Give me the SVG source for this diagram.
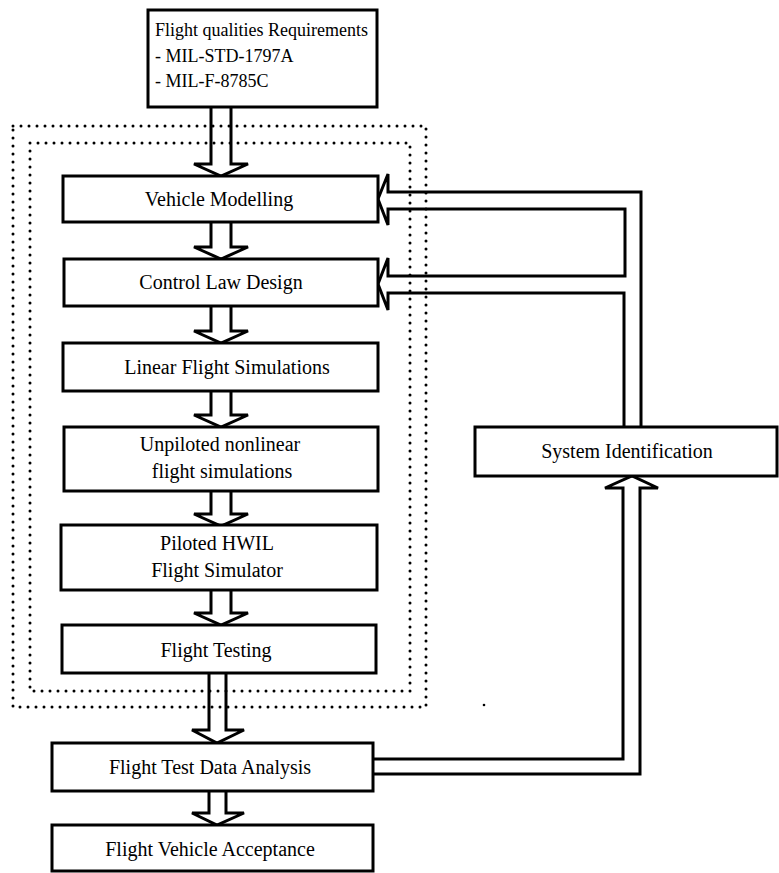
<svg xmlns="http://www.w3.org/2000/svg" width="779" height="873" viewBox="0 0 779 873">
<style>
.box{fill:#fff;stroke:#000;stroke-width:3}
.lbl{font-family:"Liberation Serif","Times New Roman",serif;font-size:20px;fill:#000;text-anchor:middle}
.lft{font-family:"Liberation Serif","Times New Roman",serif;font-size:18px;fill:#000}
.dot{fill:none;stroke:#000;stroke-width:3;stroke-linecap:round;stroke-dasharray:0 8}
.arr{fill:none;stroke:#000;stroke-width:3;stroke-linejoin:miter}
</style>
<rect width="779" height="873" fill="#fff"/>
<g id="boundary">
<rect class="dot" x="13" y="126" width="413" height="581"/>
<rect class="dot" x="30" y="143" width="380" height="548"/>
<circle cx="484" cy="705" r="1.3" fill="#000"/>
</g>
<g id="connectors">
<path class="arr" d="M211 107 V164 H194 L221 176 L248 164 H231 V107"/>
<path class="arr" d="M211 222 V247 H194 L221 259 L248 247 H231 V222"/>
<path class="arr" d="M211 306 V331 H194 L221 343 L248 331 H231 V306"/>
<path class="arr" d="M211 391 V415 H194 L221 427 L248 415 H231 V391"/>
<path class="arr" d="M211 491 V514 H194 L221 526 L248 514 H231 V491"/>
<path class="arr" d="M211 590 V613 H194 L221 625 L248 613 H231 V590"/>
<path class="arr" d="M209 673 V730 H192 L217 743 L244 730 H226 V673"/>
<path class="arr" d="M209 791 V813 H192 L217 825 L244 813 H226 V791"/>
<path class="arr" d="M641 427 V192 H388 V174 L378 199 L388 225 V209 H625 V276 H388 V258 L378 284 L388 310 V293 H624 V427"/>
<path class="arr" d="M373 759 H623 V488 H605 L632 476 L658 488 H640 V774 H373"/>
</g>
<g id="n_req">
<rect class="box" x="148" y="10" width="229" height="97"/>
<text class="lft" x="155" y="36">Flight qualities Requirements</text>
<text class="lft" x="155" y="62">- MIL-STD-1797A</text>
<text class="lft" x="155" y="87">- MIL-F-8785C</text>
</g>
<g id="n_vm"><rect class="box" x="63" y="176" width="315" height="46"/><text class="lbl" x="219" y="206">Vehicle Modelling</text></g>
<g id="n_cld"><rect class="box" x="64" y="259" width="314" height="47"/><text class="lbl" x="221" y="289">Control Law Design</text></g>
<g id="n_lfs"><rect class="box" x="63" y="343" width="315" height="48"/><text class="lbl" x="227" y="374">Linear Flight Simulations</text></g>
<g id="n_uns"><rect class="box" x="64" y="427" width="314" height="64"/><text class="lbl" x="220" y="451">Unpiloted nonlinear</text><text class="lbl" x="222" y="478">flight simulations</text></g>
<g id="n_ph"><rect class="box" x="61" y="525" width="316" height="65"/><text class="lbl" x="217" y="550">Piloted HWIL</text><text class="lbl" x="217" y="577">Flight Simulator</text></g>
<g id="n_ft"><rect class="box" x="62" y="625" width="314" height="48"/><text class="lbl" x="216" y="657">Flight Testing</text></g>
<g id="n_ftda"><rect class="box" x="52" y="743" width="321" height="48"/><text class="lbl" x="210" y="774">Flight Test Data Analysis</text></g>
<g id="n_fva"><rect class="box" x="52" y="825" width="321" height="46"/><text class="lbl" x="210" y="856">Flight Vehicle Acceptance</text></g>
<g id="n_si"><rect class="box" x="475" y="427" width="302" height="49"/><text class="lbl" x="627" y="458">System Identification</text></g>
</svg>
